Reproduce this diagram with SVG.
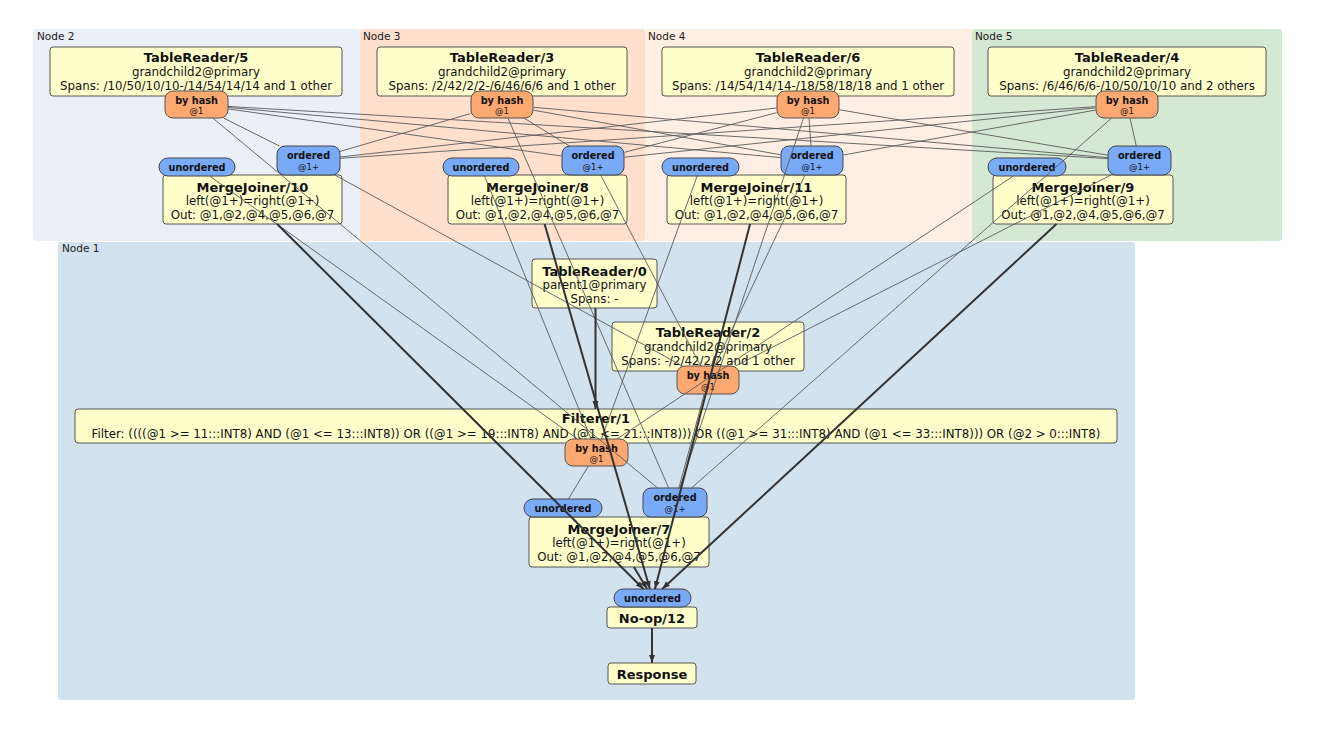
<svg xmlns="http://www.w3.org/2000/svg" width="1337" height="747" viewBox="0 0 1337 747">
<style>
text{font-family:"DejaVu Sans",Verdana,sans-serif;fill:#111;text-anchor:middle;dominant-baseline:central}
.cl{font-size:10.5px;text-anchor:start;fill:#222}
.ti{font-size:13px;font-weight:bold}
.bd{font-size:11.8px}
.sm{font-size:9.7px;font-weight:bold}
.tn{font-size:8.5px}
.box{fill:#ffffcc;stroke:#555;stroke-width:1}
.hash{fill:#fca870;stroke:#555;stroke-width:1}
.sync{fill:#78aaf8;stroke:#444;stroke-width:1}
.thin{stroke:#5a5a5a;stroke-width:0.9;fill:none}
.thick{stroke:#333;stroke-width:2;fill:none;marker-end:url(#ah)}
</style>
<defs>
<marker id="ah" markerUnits="userSpaceOnUse" markerWidth="9" markerHeight="7" refX="8" refY="3" orient="auto">
<path d="M0,0 L8,3 L0,6 z" fill="#333"/>
</marker>
</defs>
<rect width="1337" height="747" fill="#fff"/>
<g id="clusters">
<rect x="33" y="29" width="327" height="212" rx="3" fill="#ebeff8"/>
<rect x="360" y="29" width="285" height="212" rx="3" fill="#fee0cd"/>
<rect x="645" y="29" width="327" height="212" rx="3" fill="#feeee3"/>
<rect x="972" y="29" width="310" height="212" rx="3" fill="#d5e8d4"/>
<rect x="58" y="242" width="1077" height="458" rx="3" fill="#d3e2ef"/>
<text class="cl" x="37" y="36">Node 2</text>
<text class="cl" x="363" y="36">Node 3</text>
<text class="cl" x="648" y="36">Node 4</text>
<text class="cl" x="975" y="36">Node 5</text>
<text class="cl" x="62" y="248">Node 1</text>
</g>
<g id="tr5"><rect class="box" x="50" y="47" width="292" height="49" rx="3"/>
<text class="ti" x="196" y="57">TableReader/5</text><text class="bd" x="196" y="72">grandchild2@primary</text><text class="bd" x="196" y="86">Spans: /10/50/10/10-/14/54/14/14 and 1 other</text></g>
<g id="tr3"><rect class="box" x="377" y="47" width="250" height="49" rx="3"/>
<text class="ti" x="502" y="57">TableReader/3</text><text class="bd" x="502" y="72">grandchild2@primary</text><text class="bd" x="502" y="86">Spans: /2/42/2/2-/6/46/6/6 and 1 other</text></g>
<g id="tr6"><rect class="box" x="662" y="47" width="292" height="49" rx="3"/>
<text class="ti" x="808" y="57">TableReader/6</text><text class="bd" x="808" y="72">grandchild2@primary</text><text class="bd" x="808" y="86">Spans: /14/54/14/14-/18/58/18/18 and 1 other</text></g>
<g id="tr4"><rect class="box" x="988" y="47" width="278" height="49" rx="3"/>
<text class="ti" x="1127" y="57">TableReader/4</text><text class="bd" x="1127" y="72">grandchild2@primary</text><text class="bd" x="1127" y="86">Spans: /6/46/6/6-/10/50/10/10 and 2 others</text></g>
<g id="h5"><rect class="hash" x="165" y="91" width="63" height="27" rx="8"/><text class="sm" x="196.5" y="100">by hash</text><text class="tn" x="196.5" y="111">@1</text></g>
<g id="h3"><rect class="hash" x="471" y="91" width="62" height="27" rx="8"/><text class="sm" x="502" y="100">by hash</text><text class="tn" x="502" y="111">@1</text></g>
<g id="h6"><rect class="hash" x="777" y="91" width="62" height="27" rx="8"/><text class="sm" x="808" y="100">by hash</text><text class="tn" x="808" y="111">@1</text></g>
<g id="h4"><rect class="hash" x="1096" y="91" width="62" height="27" rx="8"/><text class="sm" x="1127" y="100">by hash</text><text class="tn" x="1127" y="111">@1</text></g>
<g id="mj10"><rect class="box" x="163" y="175" width="179" height="49" rx="3"/>
<text class="ti" x="252.5" y="187">MergeJoiner/10</text><text class="bd" x="252.5" y="201">left(@1+)=right(@1+)</text><text class="bd" x="252.5" y="215">Out: @1,@2,@4,@5,@6,@7</text></g>
<g id="mj8"><rect class="box" x="448" y="175" width="179" height="49" rx="3"/>
<text class="ti" x="537.5" y="187">MergeJoiner/8</text><text class="bd" x="537.5" y="201">left(@1+)=right(@1+)</text><text class="bd" x="537.5" y="215">Out: @1,@2,@4,@5,@6,@7</text></g>
<g id="mj11"><rect class="box" x="667" y="175" width="179" height="49" rx="3"/>
<text class="ti" x="756.5" y="187">MergeJoiner/11</text><text class="bd" x="756.5" y="201">left(@1+)=right(@1+)</text><text class="bd" x="756.5" y="215">Out: @1,@2,@4,@5,@6,@7</text></g>
<g id="mj9"><rect class="box" x="993" y="175" width="180" height="49" rx="3"/>
<text class="ti" x="1083" y="187">MergeJoiner/9</text><text class="bd" x="1083" y="201">left(@1+)=right(@1+)</text><text class="bd" x="1083" y="215">Out: @1,@2,@4,@5,@6,@7</text></g>
<g id="u10"><rect class="sync" x="159" y="158" width="76" height="18" rx="9"/><text class="sm" x="197" y="167">unordered</text></g>
<g id="u8"><rect class="sync" x="443" y="158" width="76" height="18" rx="9"/><text class="sm" x="481" y="167">unordered</text></g>
<g id="u11"><rect class="sync" x="662" y="158" width="77" height="18" rx="9"/><text class="sm" x="700.5" y="167">unordered</text></g>
<g id="u9"><rect class="sync" x="988" y="158" width="78" height="18" rx="9"/><text class="sm" x="1027" y="167">unordered</text></g>
<g id="o10"><rect class="sync" x="277" y="146" width="63" height="29" rx="8"/><text class="sm" x="308.5" y="155">ordered</text><text class="tn" x="308.5" y="167">@1+</text></g>
<g id="o8"><rect class="sync" x="562" y="146" width="62" height="29" rx="8"/><text class="sm" x="593" y="155">ordered</text><text class="tn" x="593" y="167">@1+</text></g>
<g id="o11"><rect class="sync" x="781" y="146" width="62" height="29" rx="8"/><text class="sm" x="812" y="155">ordered</text><text class="tn" x="812" y="167">@1+</text></g>
<g id="o9"><rect class="sync" x="1108" y="146" width="63" height="29" rx="8"/><text class="sm" x="1139.5" y="155">ordered</text><text class="tn" x="1139.5" y="167">@1+</text></g>
<g id="tr0"><rect class="box" x="532" y="259" width="125" height="49" rx="3"/>
<text class="ti" x="594.5" y="271">TableReader/0</text><text class="bd" x="594.5" y="285">parent1@primary</text><text class="bd" x="594.5" y="299">Spans: -</text></g>
<g id="tr2"><rect class="box" x="612" y="322" width="192" height="49" rx="3"/>
<text class="ti" x="708" y="332">TableReader/2</text><text class="bd" x="708" y="347">grandchild2@primary</text><text class="bd" x="708" y="361">Spans: -/2/42/2/2 and 1 other</text></g>
<g id="h2"><rect class="hash" x="677" y="366" width="62" height="28" rx="8"/><text class="sm" x="708" y="375">by hash</text><text class="tn" x="708" y="387">@1</text></g>
<g id="f1"><rect class="box" x="75" y="409" width="1042" height="34" rx="3"/>
<text class="ti" x="596" y="418">Filterer/1</text><text class="bd" x="596" y="434">Filter: ((((@1 &gt;= 11:::INT8) AND (@1 &lt;= 13:::INT8)) OR ((@1 &gt;= 19:::INT8) AND (@1 &lt;= 21:::INT8))) OR ((@1 &gt;= 31:::INT8) AND (@1 &lt;= 33:::INT8))) OR (@2 &gt; 0:::INT8)</text></g>
<g id="hf"><rect class="hash" x="565" y="439" width="63" height="27" rx="8"/><text class="sm" x="596.5" y="448">by hash</text><text class="tn" x="596.5" y="459">@1</text></g>
<g id="mj7"><rect class="box" x="529" y="517" width="180" height="50" rx="3"/>
<text class="ti" x="619" y="529">MergeJoiner/7</text><text class="bd" x="619" y="543">left(@1+)=right(@1+)</text><text class="bd" x="619" y="557">Out: @1,@2,@4,@5,@6,@7</text></g>
<g id="u7"><rect class="sync" x="524" y="499" width="78" height="18" rx="9"/><text class="sm" x="563" y="508">unordered</text></g>
<g id="o7"><rect class="sync" x="643" y="488" width="64" height="29" rx="8"/><text class="sm" x="675" y="497">ordered</text><text class="tn" x="675" y="509">@1+</text></g>
<g id="noop"><rect class="box" x="607" y="607" width="90" height="21" rx="3"/><text class="ti" x="652" y="618">No-op/12</text></g>
<g id="nu"><rect class="sync" x="614" y="589" width="77" height="18" rx="9"/><text class="sm" x="652.5" y="598">unordered</text></g>
<g id="resp"><rect class="box" x="608" y="663" width="88" height="21" rx="3"/><text class="ti" x="652" y="674">Response</text></g>
<g id="connectors">
<path class="thin" d="M223.5,118L279.5,146M228,108.9L561.5,156M228,107.4L780.5,157.6M228,106.4L1108,158.6M212.7,118L657.6,488"/>
<path class="thin" d="M470.5,113.6L340,151.4M523.9,118L569.4,146M533.5,110.2L780.5,154.8M533.5,107.3L1108,157.7M507.9,118L668.7,488"/>
<path class="thin" d="M776.5,108L340,157M776.5,112.7L624.5,152.3M809,118L811,146M839.5,109.8L1108,155.2M803.5,118L679.8,488"/>
<path class="thin" d="M1095.5,106.7L340,158.3M1095.5,107.8L624.5,157.2M1095.5,110.1L843.5,154.9M1130,118L1136.3,146M1111.7,118L691.5,488"/>
<path class="thin" d="M682.5,366L334.9,175M700.7,366L600.6,175M714.6,366L805.1,175M735.5,366L1111,175M704.2,394L678.9,488"/>
<path class="thin" d="M577.6,439L209.6,176M591,439L484.6,176M601.4,439L697.2,176M616.9,439L1013.4,176M588.4,466L568.4,499"/>
<path class="thick" d="M277.1,224L643.5,589"/>
<path class="thick" d="M544.6,224L649.9,589"/>
<path class="thick" d="M750.1,224L654.9,589"/>
<path class="thick" d="M1056.5,224L662.2,589"/>
<path class="thick" d="M633.9,567L647.1,589"/>
<path class="thick" d="M595.5,308L595.5,409"/>
<path class="thick" d="M652,628L652,663"/>
</g>
</svg>
